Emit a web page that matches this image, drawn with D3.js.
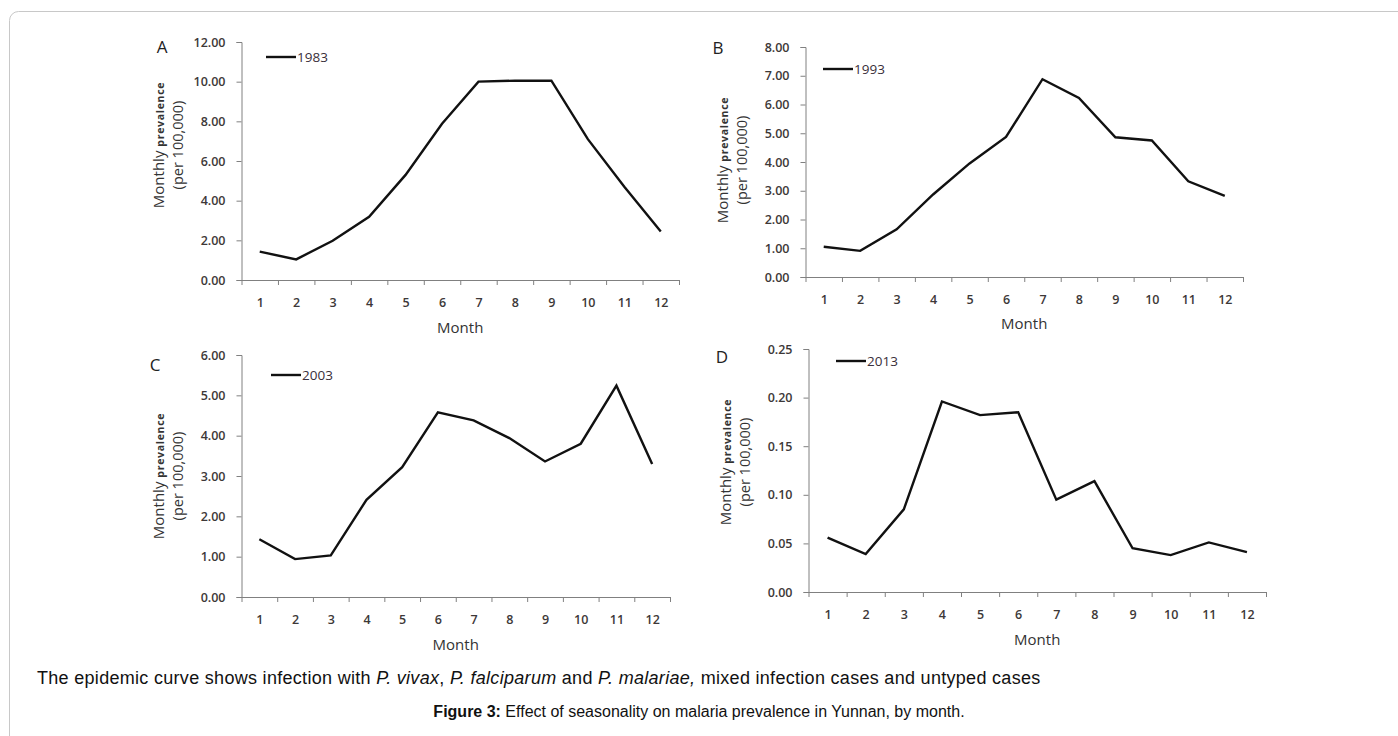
<!DOCTYPE html>
<html>
<head>
<meta charset="utf-8">
<style>
  body { margin: 0; background: #fff; }
  svg { display: block; }
  .tick text { font-family: "Open Sans", sans-serif; font-size: 12.5px; font-weight: 600; fill: #3d3838; }
  .domain, .tick line { stroke: #808080; }
</style>
</head>
<body>
<svg id="svg"></svg>
<script src="https://d3js.org/d3.v7.min.js"></script>
<script>
  var width = 1398, height = 736;

  // data
  var months = [1, 2, 3, 4, 5, 6, 7, 8, 9, 10, 11, 12];
  var prev1983 = [1.43, 1.04, 1.98, 3.19, 5.30, 7.88, 10.0, 10.05, 10.05, 7.10, 4.70, 2.44];
  var prev1993 = [1.05, 0.91, 1.66, 2.87, 3.95, 4.87, 6.88, 6.23, 4.86, 4.75, 3.33, 2.82];
  var prev2003 = [1.43, 0.94, 1.03, 2.41, 3.22, 4.58, 4.38, 3.94, 3.36, 3.80, 5.24, 3.30];
  var prev2013 = [0.056, 0.039, 0.085, 0.196, 0.182, 0.185, 0.095, 0.114, 0.045, 0.038, 0.051, 0.041];
  var ticksA = [0, 2, 4, 6, 8, 10, 12];
  var ticksB = [0, 1, 2, 3, 4, 5, 6, 7, 8];
  var ticksC = [0, 1, 2, 3, 4, 5, 6];
  var ticksD = [0, 0.05, 0.10, 0.15, 0.20, 0.25];

  var svg = d3.select("#svg").attr("width", width).attr("height", height);

  // page frame
  svg.append("rect")
    .attr("x", 9.5).attr("y", 11.5)
    .attr("width", 1420).attr("height", 760)
    .attr("rx", 9)
    .attr("fill", "none")
    .attr("stroke", "#c8c8c8");

  var panels = [
    { letter: "A", lx: 162, ly: 53, year: "1983", values: prev1983, ticks: ticksA, yMax: 12,
      x0: 241.5, x1: 679, yTop: 42, yBot: 280, legX: 266, legY: 57, labY: 145, monthY: 333 },
    { letter: "B", lx: 718, ly: 54, year: "1993", values: prev1993, ticks: ticksB, yMax: 8,
      x0: 805.5, x1: 1243, yTop: 47, yBot: 277, legX: 823, legY: 69, labY: 160, monthY: 329 },
    { letter: "C", lx: 155, ly: 371, year: "2003", values: prev2003, ticks: ticksC, yMax: 6,
      x0: 241.5, x1: 670, yTop: 355, yBot: 597, legX: 271, legY: 375, labY: 476, monthY: 650 },
    { letter: "D", lx: 722, ly: 363, year: "2013", values: prev2013, ticks: ticksD, yMax: 0.25,
      x0: 808.5, x1: 1266, yTop: 349, yBot: 592, legX: 836, legY: 361, labY: 462, monthY: 645 }
  ];

  panels.forEach(function (p) {
    var g = svg.append("g");

    var x = d3.scaleLinear().domain([0.5, 12.5]).range([p.x0, p.x1]);
    var y = d3.scaleLinear().domain([0, p.yMax]).range([p.yBot, p.yTop]);

    // y axis
    g.append("g")
      .attr("transform", "translate(" + p.x0 + ",0)")
      .call(d3.axisLeft(y).tickValues(p.ticks).tickSize(5).tickPadding(11).tickFormat(d3.format(".2f")));

    // x axis: ticks between months
    g.append("g")
      .attr("transform", "translate(0," + p.yBot + ")")
      .call(d3.axisBottom(x).tickValues(d3.range(0.5, 13, 1)).tickSize(5).tickSizeOuter(0).tickFormat(""));

    // x labels
    g.append("g")
      .attr("transform", "translate(0," + p.yBot + ")")
      .call(d3.axisBottom(x).tickValues(months).tickSize(0).tickPadding(18))
      .call(function (s) { s.select(".domain").remove(); });

    // the curve
    var line = d3.line()
      .x(function (d, i) { return x(months[i]); })
      .y(function (d) { return y(d); });

    g.append("path")
      .datum(p.values)
      .attr("d", line)
      .attr("fill", "none")
      .attr("stroke", "#111")
      .attr("stroke-width", 2.4);

    // legend
    g.append("line")
      .attr("x1", p.legX).attr("x2", p.legX + 30)
      .attr("y1", p.legY).attr("y2", p.legY)
      .attr("stroke", "#111").attr("stroke-width", 2.4);
    g.append("text")
      .attr("x", p.legX + 31).attr("y", p.legY + 5)
      .attr("font-family", "Open Sans, sans-serif").attr("font-size", 13.5)
      .attr("fill", "#3a2f3a")
      .text(p.year);

    // panel letter
    g.append("text")
      .attr("x", p.lx).attr("y", p.ly)
      .attr("text-anchor", "middle")
      .attr("font-family", "Open Sans, sans-serif").attr("font-size", 17)
      .attr("fill", "#222")
      .text(p.letter);

    // x title
    g.append("text")
      .attr("x", (p.x0 + p.x1) / 2).attr("y", p.monthY)
      .attr("text-anchor", "middle")
      .attr("font-family", "Open Sans, sans-serif").attr("font-size", 15)
      .attr("fill", "#333")
      .text("Month");

    // y title, two lines
    var t1 = g.append("text")
      .attr("transform", "translate(" + (p.x0 - 78) + "," + p.labY + ") rotate(-90)")
      .attr("text-anchor", "middle")
      .attr("font-family", "Open Sans, sans-serif")
      .attr("fill", "#333");
    t1.append("tspan").attr("font-size", 15).text("Monthly ");
    t1.append("tspan").attr("font-size", 10.5).attr("font-weight", 700).attr("letter-spacing", 0.7).text("prevalence");

    g.append("text")
      .attr("transform", "translate(" + (p.x0 - 59) + "," + p.labY + ") rotate(-90)")
      .attr("text-anchor", "middle")
      .attr("font-family", "Open Sans, sans-serif").attr("font-size", 14.5)
      .attr("fill", "#333")
      .text("(per 100,000)");
  });

  // captions
  var cap = svg.append("text")
    .attr("x", 37).attr("y", 684)
    .attr("font-family", "Liberation Sans, Arial, sans-serif").attr("font-size", 18)
    .attr("letter-spacing", 0.3)
    .attr("fill", "#111");
  cap.append("tspan").text("The epidemic curve shows infection with ");
  cap.append("tspan").attr("font-style", "italic").text("P. vivax");
  cap.append("tspan").text(", ");
  cap.append("tspan").attr("font-style", "italic").text("P. falciparum");
  cap.append("tspan").text(" and ");
  cap.append("tspan").attr("font-style", "italic").text("P. malariae,");
  cap.append("tspan").text(" mixed infection cases and untyped cases");

  var fig = svg.append("text")
    .attr("x", 699).attr("y", 717)
    .attr("text-anchor", "middle")
    .attr("font-family", "Liberation Sans, Arial, sans-serif").attr("font-size", 16)
    .attr("fill", "#111");
  fig.append("tspan").attr("font-weight", 700).text("Figure 3:");
  fig.append("tspan").text(" Effect of seasonality on malaria prevalence in Yunnan, by month.");
</script>
</body>
</html>
